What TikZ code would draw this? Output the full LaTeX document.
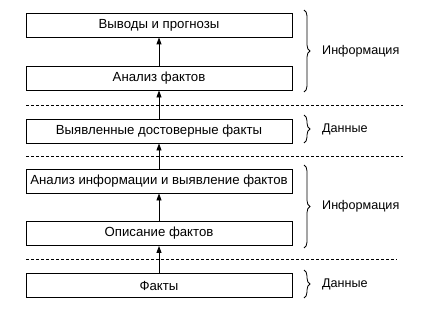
\documentclass[tikz,border=0pt]{standalone}
\usepackage{fontspec}
\setmainfont{Liberation Sans}
\usetikzlibrary{arrows.meta,decorations.pathreplacing}
\begin{document}
\begin{tikzpicture}[x=1pt,y=1pt,
  stepbox/.style={draw,line width=0.9pt,minimum width=266pt,minimum height=24pt,inner sep=0pt,font=\fontsize{13.2}{15}\selectfont},
  arr/.style={line width=0.9pt,-{Triangle[length=7pt,width=5pt]}},
  sep/.style={line width=0.7pt,dash pattern=on 3pt off 2pt},
  brc/.style={line width=0.8pt,decorate,decoration={brace,amplitude=6pt}},
  lbl/.style={anchor=west,font=\fontsize{12.6}{14}\selectfont,inner sep=0pt}]
\useasboundingbox (0,0) rectangle (447,314);
\node[stepbox] (b1) at (159,289) {Выводы и прогнозы};
\node[stepbox] (b2) at (159,236) {Анализ фактов};
\node[stepbox] (b3) at (159,183) {Выявленные достоверные факты};
\node[stepbox] (b4) at (159,133) {Анализ информации и выявление фактов};
\node[stepbox] (b5) at (159,80.5) {Описание фактов};
\node[stepbox] (b6) at (159,28.5) {Факты};
\draw[arr] (b2) -- (b1);
\draw[arr] (b3) -- (b2);
\draw[arr] (b4) -- (b3);
\draw[arr] (b5) -- (b4);
\draw[arr] (b6) -- (b5);
\coordinate (d1a) at (26,209); \coordinate (d1b) at (403,209);
\coordinate (d2a) at (26,158); \coordinate (d2b) at (403,158);
\coordinate (d3a) at (26,55); \coordinate (d3b) at (397,55);
\draw[sep] (d1a) -- (d1b);
\draw[sep] (d2a) -- (d2b);
\draw[sep] (d3a) -- (d3b);
\coordinate (r1a) at (304,304); \coordinate (r1b) at (304,222);
\coordinate (r2a) at (304,199); \coordinate (r2b) at (304,171);
\coordinate (r3a) at (304,149); \coordinate (r3b) at (304,66);
\coordinate (r4a) at (304,44); \coordinate (r4b) at (304,16);
\draw[brc] (r1a) -- (r1b);
\draw[brc] (r2a) -- (r2b);
\draw[brc] (r3a) -- (r3b);
\draw[brc] (r4a) -- (r4b);
\node[lbl] (l1) at (322,263) {Информация};
\node[lbl] (l2) at (322,185) {Данные};
\node[lbl] (l3) at (322,107.5) {Информация};
\node[lbl] (l4) at (322,30) {Данные};
\end{tikzpicture}
\end{document}
